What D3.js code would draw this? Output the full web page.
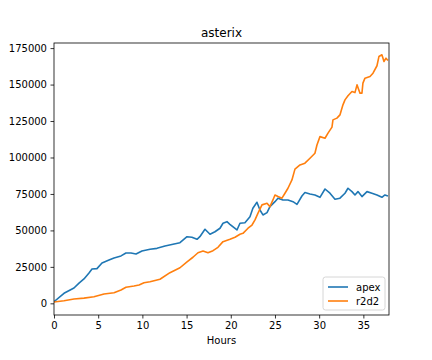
<!DOCTYPE html>
<html>
<head>
<meta charset="utf-8">
<script src="https://cdn.jsdelivr.net/npm/d3@7"></script>
<style>
  body { margin: 0; background: #fff; }
  text { font-family: "DejaVu Sans", sans-serif; fill: #000; }
</style>
</head>
<body>
<div id="chart"></div>
<script>
// hours / values
var apexHours = [0, 1.13, 2.26, 2.83, 3.39, 3.96, 4.3, 4.86, 5.43, 6.22, 6.79, 7.58, 8.14, 8.71, 9.28, 9.95,
  10.86, 11.65, 12.56, 13.46, 14.25, 15.05, 15.6, 16.18, 16.5, 17.08, 17.65, 18.21, 18.78, 19.12, 19.57, 19.9,
  20.7, 21.04, 21.6, 22.17, 22.5, 22.96, 23.3, 23.64, 24.1, 24.43, 25.0, 25.34, 25.9, 26.47, 27.04, 27.49, 28.05,
  28.39, 28.96, 29.52, 30.09, 30.66, 31.22, 31.79, 32.35, 32.92, 33.26, 33.71, 34.05, 34.39, 34.84, 35.41,
  35.97, 36.54, 37.1, 37.44, 37.78];
var apexValues = [1100, 6860, 10500, 13900, 16700, 20800, 23500, 23800, 27700, 29700, 31100, 32500, 34500, 34500, 33800, 35900,
  37100, 37700, 39300, 40500, 41600, 45700, 45300, 43900, 45700, 50800, 47400, 49100, 51500, 54900, 56000, 54200,
  50300, 54900, 55300, 59400, 65200, 69300, 64000, 60600, 62200, 66300, 69700, 72100, 70900, 70900, 69700, 67900, 73600,
  76000, 75000, 74300, 72700, 78400, 75500, 71400, 72100, 75500, 78900, 76600, 74300, 76600, 73200, 76600,
  75500, 74300, 72700, 74300, 73600];

var r2d2Hours = [0, 1.13, 2.26, 3.39, 4.52, 5.66, 6.79, 7.58, 8.14, 9.05, 9.62, 10.18,
  10.86, 11.99, 13.12, 14.25, 15.05, 15.72, 16.29, 16.86, 17.42, 17.99, 18.55, 19.12, 19.91, 20.48, 21.04,
  21.38, 21.95, 22.4, 22.74, 23.08, 23.53, 24.1, 24.43, 24.77, 25.0, 25.34, 25.79, 26.13, 26.47, 26.92, 27.26,
  27.83, 28.39, 28.96, 29.52, 29.75, 30.09, 30.66, 31.0, 31.45, 31.56, 32.01, 32.35, 32.69, 32.92, 33.26, 33.71,
  34.05, 34.28, 34.62, 34.84, 34.95, 35.18, 35.75, 36.09, 36.54, 36.76, 37.1, 37.33, 37.56, 37.78];
var r2d2Values = [900, 1800, 3000, 3600, 4500, 6400, 7300, 9100, 11000, 11900, 12600, 14100,
  14800, 16500, 21000, 24400, 28500, 31600, 34700, 35900, 34700, 36100, 38400, 42300, 43900, 45300, 47400,
  48000, 51500, 53700, 57200, 61800, 67500, 68600, 66300, 70900, 74300, 73200, 72100, 75500, 78900, 84600, 92000,
  94900, 96100, 99500, 102900, 108600, 114300, 113200, 116700, 120800, 125800, 127000, 129200, 136100, 139500, 142300, 145200,
  144500, 149800, 144100, 144100, 151000, 154400, 155500, 157800, 162900, 169200, 170400, 165800, 168100, 166500];

var xTicks = [0, 5, 10, 15, 20, 25, 30, 35];
var yTicks = [0, 25000, 50000, 75000, 100000, 125000, 150000, 175000];
var seriesNames = ["apex", "r2d2"];
var colors = ["#1f77b4", "#ff7f0e"];

var svgWidth = 432, svgHeight = 360;
var margin = { top: 43, right: 43, bottom: 45, left: 54 };
var width = svgWidth - margin.left - margin.right;
var height = svgHeight - margin.top - margin.bottom;

var svg = d3.select("#chart").append("svg")
  .attr("width", svgWidth)
  .attr("height", svgHeight);

var chartGroup = svg.append("g")
  .attr("transform", `translate(${margin.left}, ${margin.top})`);

var xScale = d3.scaleLinear().domain([0, 37.9]).range([0, width]);
var yScale = d3.scaleLinear().domain([-8000, 178500]).range([height, 0]);

var series = [
  apexHours.map((h, i) => [h, apexValues[i]]),
  r2d2Hours.map((h, i) => [h, r2d2Values[i]])
];

var line = d3.line().x(d => xScale(d[0])).y(d => yScale(d[1]));

chartGroup.append("defs").append("clipPath").attr("id", "clip")
  .append("rect").attr("width", width).attr("height", height);

series.forEach(function(s, i) {
  chartGroup.append("path")
    .datum(s)
    .attr("clip-path", "url(#clip)")
    .attr("fill", "none")
    .attr("stroke", colors[i])
    .attr("stroke-width", 1.6)
    .attr("stroke-linejoin", "round")
    .attr("d", line);
});

var bottomAxis = d3.axisBottom(xScale).tickValues(xTicks).tickSize(3.5).tickPadding(3.5);
var leftAxis = d3.axisLeft(yScale).tickValues(yTicks).tickSize(3.5).tickPadding(3.5).tickFormat(d3.format("d"));

var gx = chartGroup.append("g")
  .attr("transform", `translate(0, ${height})`)
  .call(bottomAxis);
var gy = chartGroup.append("g").call(leftAxis);

[gx, gy].forEach(function(g) {
  g.select(".domain").remove();
  g.selectAll("line").attr("stroke", "#000").attr("stroke-width", 0.8);
  g.selectAll("text").attr("font-size", 10).attr("font-family", "DejaVu Sans");
});

// frame
chartGroup.append("rect")
  .attr("width", width).attr("height", height)
  .attr("fill", "none").attr("stroke", "#000").attr("stroke-width", 0.8);

svg.append("text")
  .attr("x", margin.left + width / 2).attr("y", margin.top - 6)
  .attr("text-anchor", "middle").attr("font-size", 12)
  .text("asterix");

svg.append("text")
  .attr("x", margin.left + width / 2).attr("y", margin.top + height + 29)
  .attr("text-anchor", "middle").attr("font-size", 10)
  .text("Hours");

// legend, lower right
var legend = chartGroup.append("g")
  .attr("transform", `translate(${width - 66}, ${height - 38})`);
legend.append("rect")
  .attr("width", 62).attr("height", 33).attr("rx", 2.5)
  .attr("fill", "#fff").attr("fill-opacity", 0.8)
  .attr("stroke", "#ccc").attr("stroke-width", 0.8);
seriesNames.forEach(function(name, i) {
  var y = 10 + i * 14;
  legend.append("line")
    .attr("x1", 5).attr("x2", 25).attr("y1", y).attr("y2", y)
    .attr("stroke", colors[i]).attr("stroke-width", 1.6);
  legend.append("text")
    .attr("x", 33).attr("y", y + 3.5)
    .attr("font-size", 10)
    .text(name);
});
</script>
</body>
</html>
